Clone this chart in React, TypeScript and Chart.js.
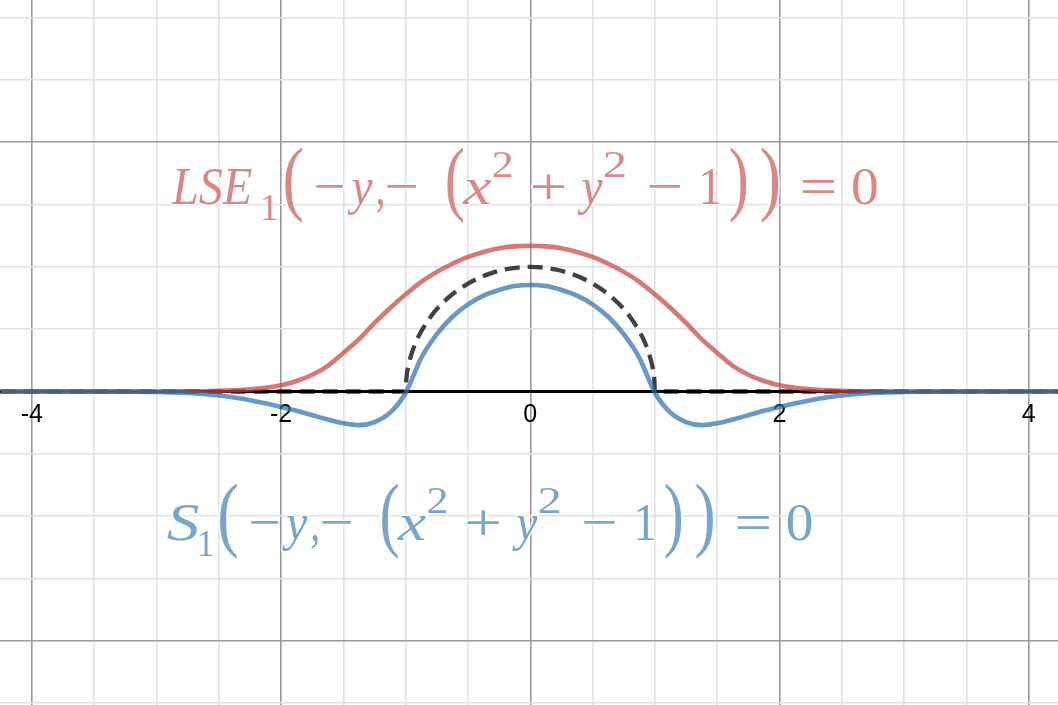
import { useEffect, useRef } from "react";
import { Chart, registerables } from "chart.js";

Chart.register(...registerables);

// visible window of the graph
const X_MIN = -4.256;
const X_MAX = 4.235;
const Y_MIN = -2.516;
const Y_MAX = 3.142;

// grid lines every 0.5, darker every 2
const xGrid = [-4, -3.5, -3, -2.5, -2, -1.5, -1, -0.5, 0, 0.5, 1, 1.5, 2, 2.5, 3, 3.5, 4];
const yGrid = [-2.5, -2, -1.5, -1, -0.5, 0, 0.5, 1, 1.5, 2, 2.5, 3];
const xMajor = [-4, -2, 0, 2, 4];
const yMajor = [-2, 2];
const xTickLabels = ["-4", "-2", "0", "2", "4"];

// sample positions along the two smooth curves
const curveX = [
  -4.25, -4, -3.5,
  -3, -2.875, -2.75, -2.625, -2.5, -2.375, -2.25, -2.125, -2, -1.875, -1.75, -1.625, -1.5,
  -1.375, -1.25, -1.125, -1, -0.875, -0.75, -0.625, -0.5, -0.375, -0.25, -0.125, 0,
  0.125, 0.25, 0.375, 0.5, 0.625, 0.75, 0.875, 1, 1.125, 1.25, 1.375, 1.5,
  1.625, 1.75, 1.875, 2, 2.125, 2.25, 2.375, 2.5, 2.625, 2.75, 2.875, 3,
  3.5, 4, 4.25,
];
// LSE_1(-y, -(x^2+y^2-1)) = 0  (red)
const lseY = [
  0, 0, 0,
  0, 0.0007, 0.0015, 0.0025, 0.005, 0.0097, 0.017, 0.03, 0.05, 0.084, 0.134, 0.206, 0.31,
  0.42, 0.55, 0.67, 0.78, 0.88, 0.96, 1.025, 1.08, 1.12, 1.15, 1.165, 1.17,
  1.165, 1.15, 1.12, 1.08, 1.025, 0.96, 0.88, 0.78, 0.67, 0.55, 0.42, 0.31,
  0.206, 0.134, 0.084, 0.05, 0.03, 0.017, 0.0097, 0.005, 0.0025, 0.0015, 0.0007, 0,
  0, 0, 0,
];
// S_1(-y, -(x^2+y^2-1)) = 0  (blue)
const sY = [
  0, 0, 0,
  -0.004, -0.007, -0.012, -0.02, -0.032, -0.048, -0.07, -0.095, -0.125, -0.155, -0.19, -0.225, -0.255,
  -0.27, -0.245, -0.17, -0.01, 0.27, 0.46, 0.6, 0.7, 0.77, 0.815, 0.846, 0.855,
  0.846, 0.815, 0.77, 0.7, 0.6, 0.46, 0.27, -0.01, -0.17, -0.245, -0.27, -0.255,
  -0.225, -0.19, -0.155, -0.125, -0.095, -0.07, -0.048, -0.032, -0.02, -0.012, -0.007, -0.004,
  0, 0, 0,
];
// exact region boundary (dashed)
const edgeX = [
  -4.25, -1, -0.995, -0.98, -0.95, -0.9, -0.8, -0.7, -0.6, -0.5, -0.4, -0.3, -0.2, -0.1, 0,
  0.1, 0.2, 0.3, 0.4, 0.5, 0.6, 0.7, 0.8, 0.9, 0.95, 0.98, 0.995, 1, 4.25,
];
const edgeY = [
  0, 0, 0.1, 0.199, 0.312, 0.436, 0.6, 0.714, 0.8, 0.866, 0.917, 0.954, 0.98, 0.995, 1,
  0.995, 0.98, 0.954, 0.917, 0.866, 0.8, 0.714, 0.6, 0.436, 0.312, 0.199, 0.1, 0, 0,
];

const RED = "rgba(199, 68, 64, 0.72)";
const BLUE = "rgba(45, 112, 179, 0.72)";
const RED_TEXT = "rgba(199, 68, 64, 0.64)";
const BLUE_TEXT = "rgba(45, 112, 179, 0.64)";

// each glyph group is stretched to the ink span [x1, x2] it has in the picture
type Piece = { t: string; x1: number; x2: number; kind: "it" | "rm" | "sub" | "sup" | "big" };

const redHead: Piece[] = [
  { t: "LSE", x1: -114, x2: -33, kind: "it" },
  { t: "1", x1: -22, x2: -8, kind: "sub" },
];
const blueHead: Piece[] = [
  { t: "S", x1: -53, x2: -21, kind: "it" },
  { t: "1", x1: -20, x2: -7, kind: "sub" },
];
// shared tail, offsets from the first big parenthesis
const tail: Piece[] = [
  { t: "(", x1: 0, x2: 17, kind: "big" },
  { t: "\u2212", x1: 31, x2: 59, kind: "rm" },
  { t: "y", x1: 62, x2: 88, kind: "it" },
  { t: ",", x1: 92, x2: 98, kind: "rm" },
  { t: "\u2212", x1: 102, x2: 132, kind: "rm" },
  { t: "(", x1: 162, x2: 178, kind: "big" },
  { t: "x", x1: 177, x2: 207, kind: "it" },
  { t: "2", x1: 208, x2: 227, kind: "sup" },
  { t: "+", x1: 247, x2: 280, kind: "rm" },
  { t: "y", x1: 292, x2: 318, kind: "it" },
  { t: "2", x1: 319, x2: 340, kind: "sup" },
  { t: "\u2212", x1: 364, x2: 396, kind: "rm" },
  { t: "1", x1: 417, x2: 435, kind: "rm" },
  { t: ")", x1: 445, x2: 462, kind: "big" },
  { t: ")", x1: 476, x2: 494, kind: "big" },
  { t: "=", x1: 517, x2: 550, kind: "rm" },
  { t: "0", x1: 568, x2: 592, kind: "rm" },
];

// anchor = left edge of the first big "(" and the text baseline, in graph units
const formulas = [
  { ax: -1.969, ay: 1.505, head: redHead, color: RED_TEXT },
  { ax: -2.492, ay: -1.191, head: blueHead, color: BLUE_TEXT },
];

const SERIF = '"Liberation Serif", "DejaVu Serif", serif';

function drawPiece(ctx: CanvasRenderingContext2D, p: Piece, x0: number, base: number, color: string) {
  const small = p.kind === "sub" || p.kind === "sup";
  ctx.font = `${p.kind === "it" ? "italic " : ""}${small ? 37 : 53}px ${SERIF}`;
  const m = ctx.measureText(p.t);
  const inkW = m.actualBoundingBoxLeft + m.actualBoundingBoxRight;
  const sx = (p.x2 - p.x1) / inkW;
  let sy = 1;
  let y = base;
  if (p.kind === "sub") y += 16;
  if (p.kind === "sup") y -= 27;
  if (p.kind === "big") {
    const h = m.actualBoundingBoxAscent + m.actualBoundingBoxDescent;
    sy = 76 / h;
    y = base - 56 + m.actualBoundingBoxAscent * sy;
  }
  ctx.save();
  ctx.translate(x0 + p.x1, y);
  ctx.scale(sx, sy);
  ctx.fillStyle = color;
  ctx.strokeStyle = "rgba(255,255,255,0.85)";
  ctx.lineWidth = 3;
  ctx.lineJoin = "round";
  ctx.strokeText(p.t, m.actualBoundingBoxLeft, 0);
  ctx.fillText(p.t, m.actualBoundingBoxLeft, 0);
  ctx.restore();
}

const formulaPlugin = {
  id: "formulas",
  afterDatasetsDraw(chart: Chart) {
    const ctx = chart.ctx;
    const xs = chart.scales.x;
    const ys = chart.scales.y;
    ctx.save();
    ctx.textAlign = "left";
    ctx.textBaseline = "alphabetic";
    for (const f of formulas) {
      const x0 = xs.getPixelForValue(f.ax);
      const base = ys.getPixelForValue(f.ay);
      for (const p of f.head) drawPiece(ctx, p, x0, base, f.color);
      for (const p of tail) drawPiece(ctx, p, x0, base, f.color);
    }
    ctx.restore();
  },
};

function pts(xs: number[], ys: number[]) {
  return xs.map((x, i) => ({ x, y: ys[i] }));
}

export default function App() {
  const chartRef = useRef<HTMLCanvasElement>(null);
  const chartInstance = useRef<Chart | null>(null);

  useEffect(() => {
    if (!chartRef.current) return;
    if (chartInstance.current) chartInstance.current.destroy();

    chartInstance.current = new Chart(chartRef.current, {
      type: "scatter",
      data: {
        datasets: [
          {
            label: "S1",
            data: pts(curveX, sY),
            showLine: true,
            borderColor: BLUE,
            borderWidth: 4.6,
            pointRadius: 0,
            cubicInterpolationMode: "monotone",
            order: 1,
          },
          {
            label: "LSE1",
            data: pts(curveX, lseY),
            showLine: true,
            borderColor: RED,
            borderWidth: 4.6,
            pointRadius: 0,
            cubicInterpolationMode: "monotone",
            order: 2,
          },
          {
            label: "boundary",
            data: pts(edgeX, edgeY),
            showLine: true,
            borderColor: "rgba(0,0,0,0.74)",
            borderWidth: 4.3,
            borderDash: [15, 8],
            pointRadius: 0,
            cubicInterpolationMode: "monotone",
            order: 3,
          },
        ],
      },
      options: {
        animation: false,
        responsive: true,
        maintainAspectRatio: false,
        events: [],
        layout: { padding: 0 },
        plugins: { legend: { display: false }, tooltip: { enabled: false } },
        scales: {
          x: {
            type: "linear",
            position: { y: 0 },
            min: X_MIN,
            max: X_MAX,
            afterBuildTicks: (s: any) => {
              s.ticks = xGrid.map((v) => ({ value: v }));
            },
            grid: {
              drawTicks: false,
              lineWidth: 1.6,
              color: (c: any) => (xMajor.includes(c.tick?.value) ? "#9a9a9a" : "#e2e2e2"),
            },
            border: { display: true, color: "#000", width: 3 },
            ticks: {
              autoSkip: false,
              maxRotation: 0,
              padding: 9,
              color: "#000",
              font: { family: '"Liberation Sans", Arial, sans-serif', size: 25 },
              callback: (v: any) => {
                const i = xMajor.indexOf(Number(v));
                return i >= 0 ? xTickLabels[i] : "";
              },
            },
          },
          y: {
            type: "linear",
            position: "left",
            min: Y_MIN,
            max: Y_MAX,
            afterBuildTicks: (s: any) => {
              s.ticks = yGrid.map((v) => ({ value: v }));
            },
            grid: {
              drawTicks: false,
              lineWidth: 1.6,
              color: (c: any) => {
                const v = c.tick?.value;
                if (v === 0) return "rgba(0,0,0,0)";
                return yMajor.includes(v) ? "#9a9a9a" : "#e2e2e2";
              },
            },
            border: { display: false },
            ticks: { display: false },
          },
        },
      },
      plugins: [formulaPlugin],
    } as any);

    return () => {
      if (chartInstance.current) {
        chartInstance.current.destroy();
        chartInstance.current = null;
      }
    };
  }, []);

  return (
    <div style={{ position: "fixed", left: 0, top: 0, width: "100vw", height: "100vh", background: "#fff" }}>
      <canvas ref={chartRef} />
    </div>
  );
}
